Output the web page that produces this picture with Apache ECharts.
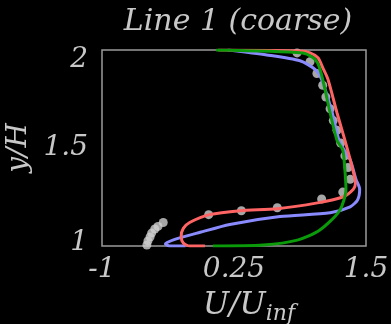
<!DOCTYPE html>
<html>
<head>
<meta charset="utf-8">
<script src="https://cdn.jsdelivr.net/npm/echarts@6/dist/echarts.min.js"></script>
<style>
  html, body { margin: 0; padding: 0; background: #000; }
  #chart { width: 391px; height: 324px; }
</style>
</head>
<body>
<div id="chart"></div>
<script>
  // profiles: [U/Uinf, y/H]
  var greenLine = [
      [0.05, 1.0], [0.525, 1.005], [0.85, 1.03], [1.06, 1.08], [1.25, 1.18],
      [1.31, 1.29], [1.30, 1.39], [1.28, 1.49], [1.225, 1.54], [1.16, 1.68],
      [1.09, 1.85], [1.045, 1.93], [1.0, 1.96], [0.90, 1.985], [0.08, 2.0]
  ];
  var redLine = [
      [-0.025, 1.0], [-0.17, 1.0], [-0.23, 1.015], [-0.25, 1.05], [-0.23, 1.09],
      [-0.17, 1.12], [0.02, 1.16], [0.31, 1.18], [0.66, 1.19], [1.04, 1.22],
      [1.28, 1.25], [1.38, 1.29], [1.40, 1.32], [1.37, 1.40], [1.30, 1.54],
      [1.225, 1.68], [1.14, 1.85], [1.09, 1.91], [1.045, 1.96], [0.97, 1.985],
      [0.875, 1.995], [0.10, 2.0]
  ];
  var blueLine = [
      [-0.21, 1.0], [-0.36, 1.0], [-0.40, 1.01], [-0.33, 1.03], [-0.07, 1.07],
      [0.21, 1.11], [0.685, 1.15], [1.16, 1.17], [1.35, 1.20], [1.42, 1.235],
      [1.44, 1.29], [1.405, 1.34], [1.35, 1.44], [1.25, 1.53], [1.18, 1.68],
      [1.08, 1.85], [1.02, 1.90], [0.875, 1.945], [0.56, 1.975], [0.19, 2.0]
  ];
  var expPoints = [
      [0.847, 1.985], [0.97, 1.94], [1.035, 1.88], [1.09, 1.82], [1.12, 1.76],
      [1.16, 1.70], [1.19, 1.64], [1.225, 1.59], [1.26, 1.525], [1.30, 1.46],
      [1.33, 1.40], [1.35, 1.34], [1.28, 1.275], [1.08, 1.24], [0.66, 1.195],
      [0.32, 1.18], [0.01, 1.16], [-0.42, 1.12], [-0.47, 1.10], [-0.50, 1.087],
      [-0.53, 1.066], [-0.545, 1.046], [-0.565, 1.026], [-0.575, 1.005]
  ];
  var xTicks = [-1, 0.25, 1.5];
  var yTicks = [1, 1.5, 2];

  var txt = '#c8c8c8';
  var fontFam = 'DejaVu Serif';
  var lbl = { color: txt, fontSize: 28, fontStyle: 'italic', fontFamily: fontFam };

  var chart = echarts.init(document.getElementById('chart'));

  var option = {
      backgroundColor: '#000',
      animation: false,
      title: {
          text: 'Line 1 (coarse)',
          left: 233,
          textAlign: 'center',
          top: 2,
          textStyle: {
              color: txt,
              fontSize: 30,
              fontStyle: 'italic',
              fontWeight: 'normal',
              fontFamily: fontFam
          }
      },
      grid: {
          left: 102,
          right: 25,
          top: 50,
          bottom: 78,
          outerBoundsMode: 'none',
          containLabel: false,
          show: true,
          borderColor: '#9a9a9a',
          borderWidth: 1.5
      },
      xAxis: {
          type: 'value',
          min: -1,
          max: 1.5,
          name: '{a|U/U}{b|inf}',
          nameLocation: 'middle',
          nameGap: 41,
          nameTextStyle: {
              rich: {
                  a: { color: txt, fontSize: 31, fontStyle: 'italic', fontFamily: fontFam, padding: [0, 0, 0, 30] },
                  b: { color: txt, fontSize: 22, fontStyle: 'italic', fontFamily: fontFam, padding: [16, 0, 0, 0] }
              }
          },
          axisLine: { show: false },
          splitLine: { show: false },
          axisTick: { show: false },
          axisLabel: {
              customValues: xTicks,
              color: txt,
              fontSize: 28,
              fontStyle: 'italic',
              fontFamily: fontFam,
              margin: 10
          }
      },
      yAxis: {
          type: 'value',
          min: 1,
          max: 2,
          interval: 0.5,
          name: 'y/H',
          nameLocation: 'middle',
          nameGap: 60,
          nameRotate: 90,
          nameTextStyle: lbl,
          axisLine: { show: false },
          splitLine: { show: false },
          axisTick: { show: false },
          axisLabel: {
              formatter: function (v) {
                  if (v === yTicks[0]) return '{lo|' + v + '}';
                  if (v === yTicks[yTicks.length - 1]) return '{hi|' + v + '}';
                  return yTicks.indexOf(v) >= 0 ? '{mid|' + v + '}' : '';
              },
              margin: 14,
              rich: {
                  lo: Object.assign({ padding: [0, 0, 6, 0] }, lbl),
                  mid: lbl,
                  hi: Object.assign({ padding: [20, 0, 0, 0] }, lbl)
              }
          }
      },
      series: [
          {
              name: 'blue',
              type: 'line',
              data: blueLine,
              symbol: 'none',
              smooth: 0.25,
              lineStyle: { color: '#8a8aff', width: 3 }
          },
          {
              name: 'red',
              type: 'line',
              data: redLine,
              symbol: 'none',
              smooth: 0.25,
              lineStyle: { color: '#ff6464', width: 3 }
          },
          {
              name: 'green',
              type: 'line',
              data: greenLine,
              symbol: 'none',
              smooth: 0.25,
              lineStyle: { color: '#0a9a0a', width: 3 }
          },
          {
              name: 'exp',
              type: 'scatter',
              data: expPoints,
              symbol: 'circle',
              symbolSize: 9,
              itemStyle: { color: '#cfcfcf' }
          }
      ]
  };

  chart.setOption(option);
</script>
</body>
</html>
